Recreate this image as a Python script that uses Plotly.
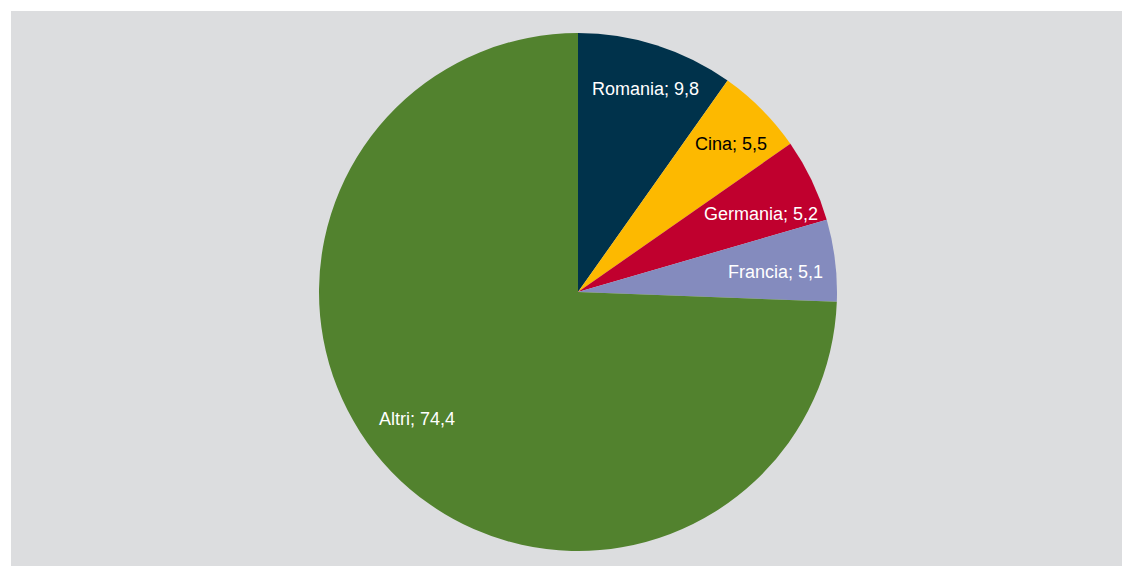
import math
import plotly.graph_objects as go

labels = ["Romania", "Cina", "Germania", "Francia", "Altri"]
values = [9.8, 5.5, 5.2, 5.1, 74.4]
colors = ["#00324B", "#FDB900", "#C0002E", "#848BBE", "#52822E"]
text_colors = ["#FFFFFF", "#000000", "#FFFFFF", "#FFFFFF", "#FFFFFF"]
# label placement style (fraction of radius, angular nudge in degrees)
label_rf = [0.825, 0.822, 0.768, 0.765, 0.79]
label_dtheta = [0.7, 0.8, 2.5, 1.2, 5.6]

# page body has an 8px margin; figure sized to end at the window edge
W, H = 1122, 558
ml, mt, mr, mb = 3, 3, 0, 0
pw, ph = W - ml - mr, H - mt - mb
cx, cy, r = 570, 284, 259  # pie centre / radius in figure pixels

xd = [(cx - r - ml) / pw, (cx + r - ml) / pw]
yd = [(H - mb - (cy + r)) / ph, (H - mb - (cy - r)) / ph]

fig = go.Figure(go.Pie(
    labels=labels,
    values=values,
    sort=False,
    direction="clockwise",
    rotation=0,
    marker=dict(colors=colors, line=dict(width=0)),
    textinfo="none",
    hoverinfo="label+value",
    domain=dict(x=xd, y=yd),
    showlegend=False,
))

total = sum(values)
cum = 0.0
annotations = []
for lab, v, tc, rf, dt in zip(labels, values, text_colors, label_rf, label_dtheta):
    mid = (cum + v / 2) / total * 360 + dt
    cum += v
    px = cx + rf * r * math.sin(math.radians(mid))
    py = cy - rf * r * math.cos(math.radians(mid))
    annotations.append(dict(
        x=(px - ml) / pw, y=(H - mb - py) / ph, xref="paper", yref="paper",
        text=f"{lab}; {v:.1f}".replace(".", ","), showarrow=False,
        xanchor="center", yanchor="middle",
        font=dict(family="Liberation Sans, Arial, sans-serif", size=18, color=tc),
    ))

fig.update_layout(
    width=W, height=H,
    margin=dict(l=ml, r=mr, t=mt, b=mb),
    paper_bgcolor="#FFFFFF",
    separators=",.",
    annotations=annotations,
    shapes=[dict(type="rect", xref="paper", yref="paper", x0=0, x1=1, y0=0, y1=1,
                 fillcolor="#DCDDDF", line=dict(width=0), layer="below")],
)

fig.write_html("out.html")
